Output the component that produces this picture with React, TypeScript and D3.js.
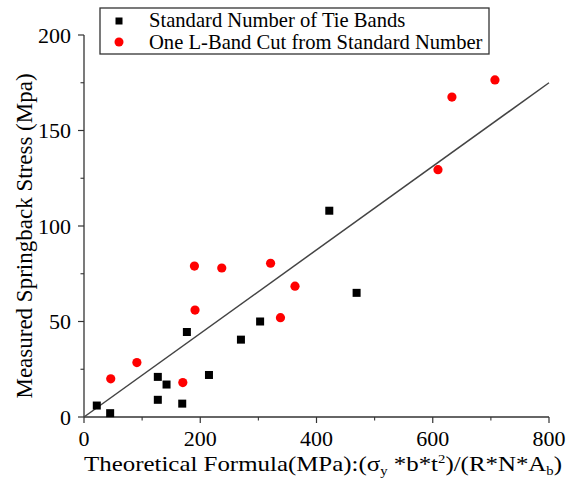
import React from "react";
import * as d3 from "d3";

// Standard number of tie bands (black squares)
const stdX = [22, 45, 127, 142, 127, 169, 177, 215, 270, 303, 422, 469];
const stdY = [6, 2, 21, 17, 9, 7, 44.5, 22, 40.5, 50, 108, 65];

// One L-band cut from standard number (red circles)
const cutX = [46, 91, 170, 191, 190, 237, 321, 363, 338, 609, 633, 707];
const cutY = [20, 28.5, 18, 56, 79, 78, 80.5, 68.5, 52, 129.5, 167.5, 176.5];

// fitted line
const fitX = [0, 800];
const fitY = [0, 175];

const xTicks = [0, 200, 400, 600, 800];
const xMinor = [100, 300, 500, 700];
const yTicks = [0, 50, 100, 150, 200];
const yMinor = [25, 75, 125, 175];

const legendLabels = ["Standard Number of Tie Bands", "One L-Band Cut from Standard Number"];

const W = 571,
  H = 484;
const FONT = "Liberation Serif";
const AXIS = "#333";

export default function App() {
  const x = d3.scaleLinear().domain([0, 800]).range([84, 549]);
  const y = d3.scaleLinear().domain([0, 200]).range([417, 35]);
  const line = d3
    .line<number>()
    .x((d) => x(d))
    .y((d, i) => y(fitY[i]));
  const sq = 8;

  return (
    <svg width={W} height={H} style={{ position: "absolute", left: 0, top: 0 }}>
      <rect width={W} height={H} fill="#fff" />
      {/* x axis */}
      <g transform={`translate(0, ${y(0)})`}>
        <line x1={x(0)} x2={x(800)} stroke={AXIS} strokeWidth={1.3} />
        {xTicks.map((d) => (
          <line key={"xt" + d} x1={x(d)} x2={x(d)} y1={0} y2={6} stroke={AXIS} strokeWidth={1.2} />
        ))}
        {xMinor.map((d) => (
          <line key={"xm" + d} x1={x(d)} x2={x(d)} y1={0} y2={3.5} stroke={AXIS} strokeWidth={1.1} />
        ))}
        {xTicks.map((d) => (
          <text key={"xl" + d} x={x(d)} y={29} textAnchor="middle" fontSize={22} fontFamily={FONT}>
            {String(d)}
          </text>
        ))}
      </g>

      {/* y axis */}
      <g transform={`translate(${x(0)}, 0)`}>
        <line y1={y(0)} y2={y(200)} stroke={AXIS} strokeWidth={1.3} />
        {yTicks.map((d) => (
          <line key={"yt" + d} y1={y(d)} y2={y(d)} x1={0} x2={-6} stroke={AXIS} strokeWidth={1.2} />
        ))}
        {yMinor.map((d) => (
          <line key={"ym" + d} y1={y(d)} y2={y(d)} x1={0} x2={-3.5} stroke={AXIS} strokeWidth={1.1} />
        ))}
        {yTicks.map((d) => (
          <text key={"yl" + d} x={-13} y={y(d) + 7.5} textAnchor="end" fontSize={22} fontFamily={FONT}>
            {String(d)}
          </text>
        ))}
      </g>

      {/* axis titles */}
      <text x={84} y={471} fontSize={22} fontFamily={FONT} textLength={478} lengthAdjust="spacingAndGlyphs">
        <tspan>Theoretical Formula(MPa):(σ</tspan>
        <tspan fontSize={13} dy={4}>y</tspan>
        <tspan dy={-4}> *b*t</tspan>
        <tspan fontSize={13} dy={-8}>2</tspan>
        <tspan dy={8}>)/(R*N*A</tspan>
        <tspan fontSize={13} dy={4}>b</tspan>
        <tspan dy={-4}>)</tspan>
      </text>
      <text transform="translate(32, 236) rotate(-90)" textAnchor="middle" fontSize={23} fontFamily={FONT}>
        Measured Springback Stress (Mpa)
      </text>

      {/* fit line */}
      <path d={line(fitX) || ""} fill="none" stroke="#444" strokeWidth={1.5} />

      {/* points */}
      {stdX.map((v, i) => (
        <rect key={"s" + i} x={x(v) - sq / 2} y={y(stdY[i]) - sq / 2} width={sq} height={sq} fill="#000" />
      ))}
      {cutX.map((v, i) => (
        <circle key={"c" + i} cx={x(v)} cy={y(cutY[i])} r={4.6} fill="#ff0000" />
      ))}

      {/* legend */}
      <g>
        <rect x={100} y={8} width={389} height={46} fill="#fff" stroke="#333" strokeWidth={1.3} />
        <rect x={115.5} y={17.5} width={7} height={7} fill="#000" />
        <circle cx={119} cy={42} r={4.5} fill="#ff0000" />
        {legendLabels.map((d, i) => (
          <text key={d} x={149} y={26.5 + i * 22.5} fontSize={20.6} fontFamily={FONT}>
            {d}
          </text>
        ))}
      </g>
    </svg>
  );
}
